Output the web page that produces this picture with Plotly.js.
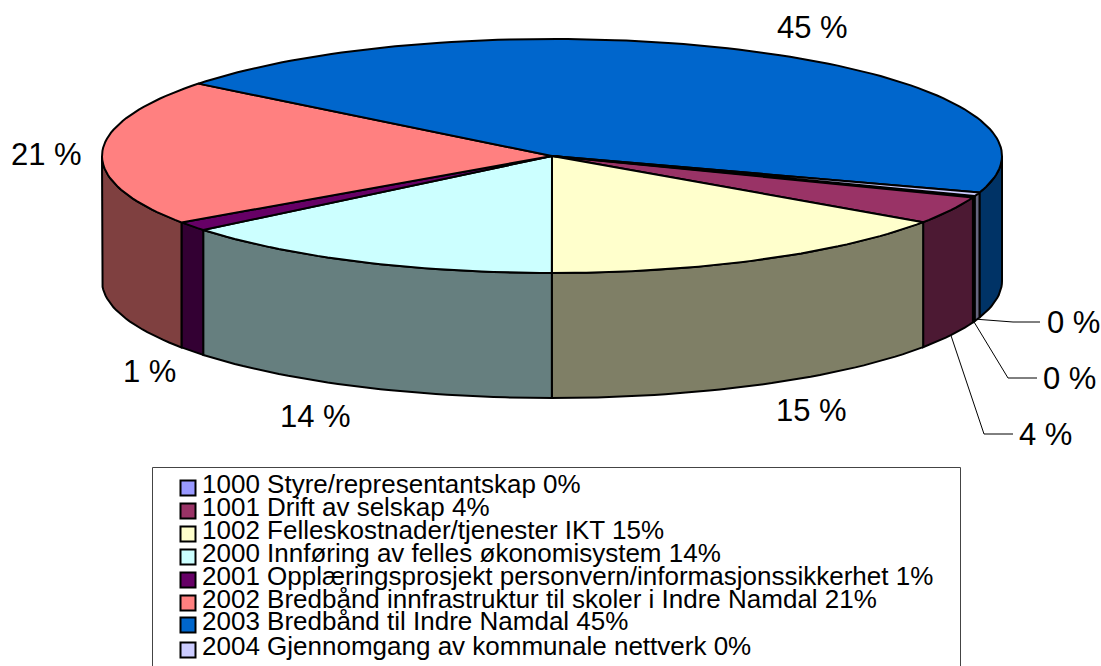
<!DOCTYPE html>
<html><head><meta charset="utf-8">
<script src="https://cdn.plot.ly/plotly-3.0.1.min.js"></script>
<style>html,body{margin:0;padding:0;background:#fff;overflow:hidden}#c{width:1101px;height:666px}</style>
</head><body><div id="c"></div>
<script>
// Data
const categories = ["1000 Styre/representantskap 0%","1001 Drift av selskap 4%","1002 Felleskostnader/tjenester IKT 15%","2000 Innføring av felles økonomisystem 14%","2001 Opplæringsprosjekt personvern/informasjonssikkerhet 1%","2002 Bredbånd innfrastruktur til skoler i Indre Namdal 21%","2003 Bredbånd til Indre Namdal 45%","2004 Gjennomgang av kommunale nettverk 0%"];
const values = [0.2,3.81,15.44,14.11,1.28,20.22,44.44,0.5];
const topColors = ["#9999FF","#993366","#FFFFCC","#CCFFFF","#660066","#FF8080","#0066CC","#CCCCFF"];
const sideColors = ["#4C4C7F","#4C1933","#7F7F66","#667F7F","#330033","#7F4040","#003366","#66667F"];
const pctLabels = ["0 %","4 %","15 %","14 %","1 %","21 %","45 %","0 %"];

// Pie geometry
const cx=552, cy=156, rx=450, ry=117, depth=125, startDeg=110;
const total=values.reduce((a,b)=>a+b,0);
const px=t=>cx+rx*Math.sin(t*Math.PI/180);
const py=t=>cy-ry*Math.cos(t*Math.PI/180);
function arc(a,b){const n=Math.max(2,Math.ceil(Math.abs(b-a)/1.5));const o=[];for(let i=0;i<=n;i++)o.push(a+(b-a)*i/n);return o;}

let acc=startDeg; const spans=values.map(v=>{const s=acc;acc+=v/total*360;return [s,acc];});
const traces=[];
// walls: only the front half (90..270, plus the wrap 450..630) is visible
const walls=[];
spans.forEach(([a,b],i)=>{
  [[90,270],[450,630]].forEach(([lo,hi])=>{
    const s=Math.max(a,lo), e=Math.min(b,hi);
    if(e>s) walls.push({i,s,e});
  });
});
walls.forEach(w=>{
  const ts=arc(w.s,w.e);
  const x=ts.map(px).concat(ts.slice().reverse().map(px)); 
  const y=ts.map(py).concat(ts.slice().reverse().map(t=>py(t)+depth));
  x.push(x[0]);y.push(y[0]);
  traces.push({type:'scatter',mode:'lines',x,y,fill:'toself',fillcolor:sideColors[w.i],line:{color:'#000',width:2},hoverinfo:'skip',showlegend:false,name:categories[w.i]});
});
// top faces
spans.forEach(([a,b],i)=>{
  const ts=arc(a,b);
  const x=[cx].concat(ts.map(px),[cx]), y=[cy].concat(ts.map(py),[cy]);
  traces.push({type:'scatter',mode:'lines',x,y,fill:'toself',fillcolor:topColors[i],line:{color:'#000',width:2},hoverinfo:'text',text:categories[i],showlegend:false,name:categories[i]});
});
// legend rows
const legendX=188, legendTextX=202;
const legendRowY=[488,511,534,557,580,603,625,650];
const legendTextOffset=-2;
traces.push({type:'scatter',mode:'markers',x:categories.map(()=>legendX),y:legendRowY,
  marker:{symbol:'square',size:15,color:topColors,line:{color:'#000',width:2}},hoverinfo:'skip',showlegend:false});
traces.push({type:'scatter',mode:'text',x:categories.map(()=>legendTextX),y:legendRowY.map(v=>v+legendTextOffset),
  text:categories,textposition:'middle right',textfont:{family:'Liberation Sans, Arial, sans-serif',size:26,color:'#000'},hoverinfo:'skip',showlegend:false});

// label positions
const labelPos=[[1069,378],[1045,434],[811,410],[315,416],[149,371],[46,154],[812,27],[1073,322]];
const annotations=pctLabels.map((t,i)=>({x:labelPos[i][0],y:labelPos[i][1],text:t,showarrow:false,xref:'x',yref:'y',xanchor:'center',yanchor:'middle',font:{family:'Liberation Sans, Arial, sans-serif',size:31,color:'#000'}}));

// leader lines: from the slice's outer lower edge to an elbow by the label
const leaders=[{i:7,elbow:[1013,322],end:[1040,322]},{i:0,elbow:[1008,378],end:[1037,378]},{i:1,elbow:[984,434],end:[1013,434]}];
const shapes=[{type:'rect',xref:'x',yref:'y',x0:152.5,x1:960.5,y0:467.5,y1:680,line:{color:'#444',width:1},fillcolor:'rgba(0,0,0,0)'}];
leaders.forEach(l=>{
  const m=(spans[l.i][0]+spans[l.i][1])/2;
  const sx=px(m), sy=py(m)+depth;
  shapes.push({type:'path',xref:'x',yref:'y',path:`M${sx},${sy}L${l.elbow[0]},${l.elbow[1]}L${l.end[0]},${l.end[1]}`,line:{color:'#000',width:1}});
});
const layout={width:1101,height:666,margin:{l:0,r:0,t:0,b:0},paper_bgcolor:'#fff',plot_bgcolor:'#fff',showlegend:false,
  xaxis:{range:[0,1101],visible:false,fixedrange:true},yaxis:{range:[666,0],visible:false,fixedrange:true},annotations,shapes};
Plotly.newPlot('c',traces,layout,{displayModeBar:false,responsive:false});
</script></body></html>
